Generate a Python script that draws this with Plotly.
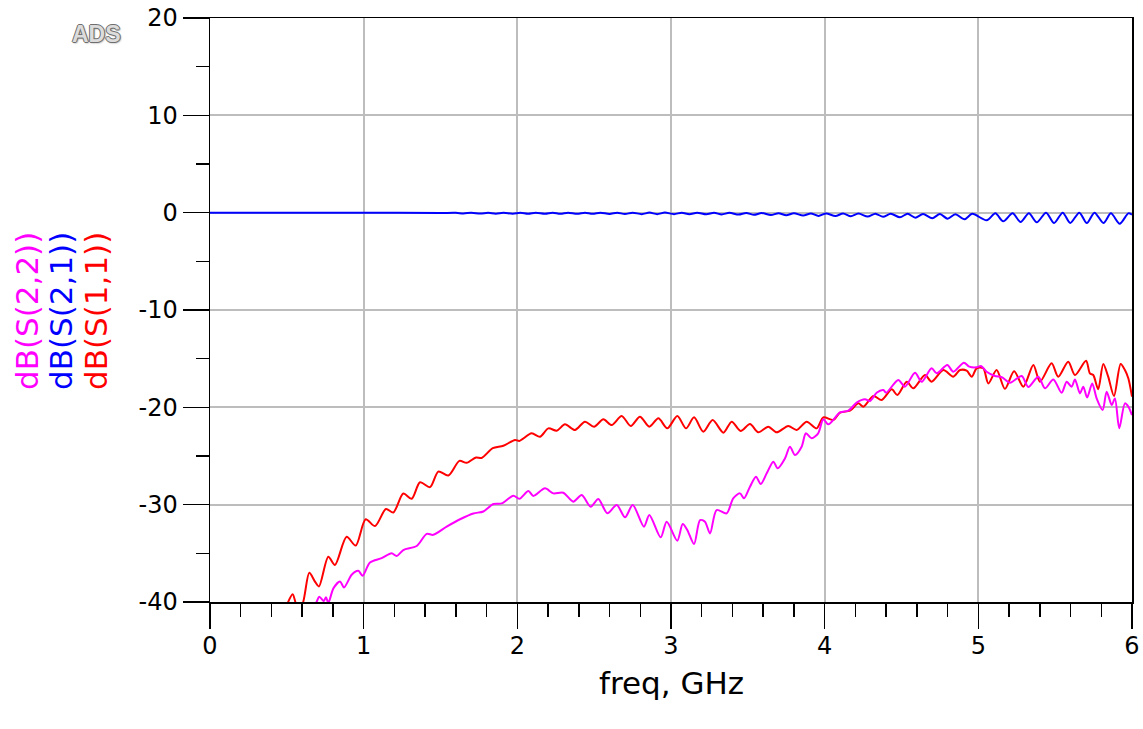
import plotly.graph_objects as go

# ---------------- data ----------------
x_ticks = [0, 1, 2, 3, 4, 5, 6]
x_ticktext = ["0", "1", "2", "3", "4", "5", "6"]
y_ticks = [-40, -30, -20, -10, 0, 10, 20]
y_ticktext = ["-40", "-30", "-20", "-10", "0", "10", "20"]

s11_f = [0.30, 0.45, 0.503, 0.538, 0.57, 0.60, 0.646, 0.683, 0.709, 0.770, 0.813, 0.889, 0.948,
         1.013, 1.074, 1.145, 1.193, 1.258, 1.312, 1.367, 1.432, 1.486, 1.551, 1.623, 1.670,
         1.731, 1.768, 1.840, 1.909, 1.985, 2.013, 2.093, 2.147, 2.202, 2.256, 2.310, 2.375,
         2.440, 2.499, 2.560, 2.614, 2.679, 2.738, 2.798, 2.859, 2.918, 2.976, 3.041, 3.098,
         3.150, 3.210, 3.271, 3.341, 3.395, 3.453, 3.514, 3.568, 3.633, 3.688, 3.763, 3.818,
         3.883, 3.948, 3.991, 4.056, 4.100, 4.165, 4.219, 4.252, 4.317, 4.371, 4.436, 4.473,
         4.534, 4.577, 4.653, 4.696, 4.772, 4.837, 4.881, 4.924, 4.957, 4.989, 5.032, 5.065,
         5.119, 5.173, 5.233, 5.293, 5.358, 5.401, 5.477, 5.520, 5.585, 5.629, 5.701, 5.726,
         5.748, 5.780, 5.813, 5.845, 5.883, 5.926, 5.954, 5.976, 6.0]
s11_db = [-48.0, -42.5, -40.2, -39.2, -40.6, -40.3, -37.0, -37.9, -38.4, -35.35, -36.2, -33.3, -34.2,
          -31.5, -32.2, -30.45, -30.8, -28.85, -29.4, -27.7, -28.2, -26.6, -27.0, -25.5, -25.7,
          -25.15, -25.2, -24.2, -23.95, -23.35, -23.45, -22.67, -23.02, -22.16, -22.4, -21.75, -22.33,
          -21.47, -21.99, -21.23, -21.82, -20.89, -21.92, -20.96, -21.99, -21.13, -22.16, -20.89, -22.16,
          -21.03, -22.5, -21.3, -22.6, -21.47, -22.43, -21.71, -22.57, -21.99, -22.57, -21.92, -22.33,
          -21.47, -22.16, -21.03, -21.3, -20.55, -20.34, -19.59, -19.93, -18.84, -19.25, -18.15, -18.73,
          -17.37, -18.05, -16.68, -17.37, -16.17, -16.85, -16.17, -16.24, -16.85, -15.99, -15.99, -17.54,
          -16.17, -18.10, -16.3, -17.88, -15.65, -17.37, -15.48, -16.85, -15.31, -16.68, -15.21, -16.51,
          -16.68, -18.15, -15.55, -16.85, -18.84, -15.55, -16.17, -17.02, -18.9]

s22_f = [0.40, 0.60, 0.69, 0.711, 0.74, 0.755, 0.77, 0.803, 0.846, 0.872, 0.922, 0.965, 0.993,
         1.041, 1.117, 1.182, 1.215, 1.258, 1.345, 1.410, 1.453, 1.540, 1.627, 1.714, 1.779,
         1.844, 1.898, 1.974, 2.013, 2.072, 2.104, 2.180, 2.234, 2.299, 2.364, 2.419, 2.477,
         2.527, 2.586, 2.647, 2.701, 2.751, 2.824, 2.859, 2.933, 2.972, 3.041, 3.076, 3.106,
         3.150, 3.189, 3.221, 3.254, 3.297, 3.362, 3.405, 3.449, 3.475, 3.514, 3.553, 3.584,
         3.623, 3.666, 3.694, 3.742, 3.774, 3.807, 3.850, 3.878, 3.915, 3.958, 3.991, 4.024,
         4.100, 4.154, 4.208, 4.262, 4.295, 4.338, 4.382, 4.400, 4.479, 4.522, 4.588, 4.631,
         4.696, 4.729, 4.798, 4.837, 4.906, 4.941, 4.989, 5.017, 5.054, 5.108, 5.152, 5.206,
         5.282, 5.325, 5.390, 5.434, 5.488, 5.542, 5.575, 5.607, 5.629, 5.661, 5.683, 5.708,
         5.741, 5.770, 5.809, 5.835, 5.868, 5.889, 5.917, 5.954, 5.976, 6.0]
s22_db = [-47.0, -42.0, -40.1, -39.45, -39.9, -39.5, -40.1, -38.6, -37.9, -38.5, -37.2, -36.8, -37.3,
          -35.95, -35.5, -35.0, -35.27, -34.66, -34.25, -33.0, -33.1, -32.26, -31.5, -30.9, -30.7,
          -29.93, -29.87, -29.08, -29.4, -28.6, -29.1, -28.32, -28.84, -28.77, -29.69, -29.01, -30.21,
          -29.42, -30.89, -30.04, -31.3, -30.04, -32.26, -31.06, -33.36, -31.75, -33.7, -31.99, -32.6,
          -34.04, -31.58, -31.75, -32.95, -30.55, -30.89, -29.35, -28.84, -29.35, -28.15, -27.12, -27.88,
          -26.78, -25.58, -26.27, -25.24, -24.04, -24.9, -24.04, -22.67, -23.18, -22.67, -21.23, -21.75,
          -20.53, -20.34, -19.52, -19.18, -19.35, -18.5, -18.22, -18.5, -17.19, -17.88, -16.44, -17.37,
          -15.99, -16.51, -15.65, -16.34, -15.41, -15.82, -15.89, -15.75, -16.34, -16.78, -16.9, -17.47,
          -16.78, -17.9, -16.85, -18.05, -17.13, -18.5, -17.37, -17.88, -17.13, -18.57, -17.88, -18.98,
          -17.54, -19.08, -20.28, -18.39, -19.76, -19.08, -22.16, -19.59, -19.93, -20.8]

s21_f = [0.0, 0.5, 1.0, 1.5,
         1.60, 1.65, 1.70, 1.76, 1.81, 1.86, 1.91, 1.97, 2.02, 2.07, 2.12, 2.18, 2.23, 2.28,
         2.33, 2.39, 2.44, 2.49, 2.54, 2.60, 2.65, 2.70, 2.75, 2.81, 2.86, 2.91, 2.96, 3.02,
         3.07, 3.12, 3.17, 3.23, 3.28, 3.33, 3.38, 3.44, 3.49, 3.54, 3.59, 3.65, 3.70, 3.75,
         3.80, 3.86, 3.91, 3.96, 4.01, 4.07, 4.12, 4.17, 4.22, 4.28, 4.33, 4.38, 4.43, 4.49,
         4.54, 4.59, 4.64, 4.70, 4.75, 4.80, 4.85, 4.91, 4.96,
         5.054, 5.111, 5.162, 5.223, 5.275, 5.329, 5.380, 5.441, 5.493, 5.549, 5.598, 5.657,
         5.706, 5.756, 5.814, 5.863, 5.920, 5.976, 6.0]
s21_db = [0.0, 0.0, -0.01, -0.03,
          -0.02, -0.08, -0.01, -0.09, -0.01, -0.10, -0.01, -0.10, -0.01, -0.11, -0.01, -0.11, -0.01, -0.12,
          -0.01, -0.12, -0.01, -0.12, 0.00, -0.13, 0.00, -0.14, 0.00, -0.15, 0.01, -0.15, 0.01, -0.15,
          0.00, -0.16, 0.00, -0.17, -0.01, -0.18, -0.02, -0.20, -0.03, -0.22, -0.04, -0.25, -0.05, -0.27,
          -0.06, -0.30, -0.08, -0.33, -0.08, -0.35, -0.08, -0.37, -0.09, -0.40, -0.10, -0.43, -0.11, -0.47,
          -0.12, -0.52, -0.13, -0.57, -0.14, -0.62, -0.15, -0.68, -0.12,
          -0.78, -0.07, -0.89, -0.07, -0.96, -0.07, -0.99, 0.0, -1.06, 0.0, -1.06, 0.0,
          -1.06, 0.0, -1.06, -0.07, -1.14, -0.07, -0.2]

trace_names = ["dB(S(2,2))", "dB(S(2,1))", "dB(S(1,1))"]
trace_colors = ["#ff00ff", "#0000ff", "#ff0000"]

# ---------------- figure ----------------
FONT = "DejaVu Sans"
fig = go.Figure()

fig.add_trace(go.Scatter(x=s11_f, y=s11_db, mode="lines", name=trace_names[2],
                         line=dict(color=trace_colors[2], width=2, shape="spline", smoothing=0.8)))
fig.add_trace(go.Scatter(x=s21_f, y=s21_db, mode="lines", name=trace_names[1],
                         line=dict(color=trace_colors[1], width=2, shape="spline", smoothing=0.8)))
fig.add_trace(go.Scatter(x=s22_f, y=s22_db, mode="lines", name=trace_names[0],
                         line=dict(color=trace_colors[0], width=2, shape="spline", smoothing=0.8)))

axis_common = dict(
    ticks="outside", tickwidth=1.5, tickcolor="black",
    showline=True, linecolor="black", linewidth=1.5, mirror=True,
    showgrid=True, gridcolor="#bdbdbd", gridwidth=2, zeroline=False,
    tickfont=dict(family=FONT, size=24, color="black"),
    automargin=False, ticklabeloverflow="allow",
)

fig.update_xaxes(range=[0, 6], tickmode="array", tickvals=x_ticks, ticktext=x_ticktext,
                 ticklen=25, ticklabelstandoff=-3,
                 minor=dict(dtick=0.2, tick0=0, ticks="outside", ticklen=13, tickwidth=1.5,
                            tickcolor="black", showgrid=False),
                 **axis_common)
fig.update_yaxes(range=[-40, 20], tickmode="array", tickvals=y_ticks, ticktext=y_ticktext,
                 ticklen=26,
                 minor=dict(dtick=5, tick0=0, ticks="outside", ticklen=13, tickwidth=1.5,
                            tickcolor="black", showgrid=False),
                 **axis_common)

annotations = []
# rotated, coloured y-axis labels
label_x_px = [27, 61, 96]
for name, col, px in zip(trace_names, trace_colors, label_x_px):
    annotations.append(dict(
        text=name, xref="paper", yref="paper",
        x=(px - 210) / 922, y=(602 - 311) / 584,
        xanchor="center", yanchor="middle", textangle=-90, showarrow=False,
        font=dict(family=FONT, size=31, color=col)))

# x-axis title
annotations.append(dict(
    text="freq, GHz", xref="paper", yref="paper", x=0.5, y=(602 - 683) / 584,
    xanchor="center", yanchor="middle", showarrow=False,
    font=dict(family=FONT, size=31, color="black")))

# ADS logo
annotations.append(dict(
    text="<b>ADS</b>", xref="paper", yref="paper", x=(96 - 210) / 922, y=(602 - 34) / 584,
    xanchor="center", yanchor="middle", showarrow=False,
    font=dict(family="Liberation Sans", size=23, color="#dcdcdc",
              shadow="-1px 0 #6e6e6e, 1px 0 #6e6e6e, 0 -1px #6e6e6e, 0 1px #6e6e6e, 1px 1px 2px #888")))

fig.update_layout(
    width=1143, height=729,
    margin=dict(l=210, r=11, t=18, b=127, autoexpand=False),
    plot_bgcolor="white", paper_bgcolor="white",
    showlegend=False,
    font=dict(family=FONT, color="black"),
    annotations=annotations,
)

# remove the default 8px page margin so the figure fills the window exactly
fig.write_html("out.html",
               config={"displayModeBar": False, "staticPlot": True},
               post_script="document.body.style.margin='0';document.body.style.overflow='hidden';")
